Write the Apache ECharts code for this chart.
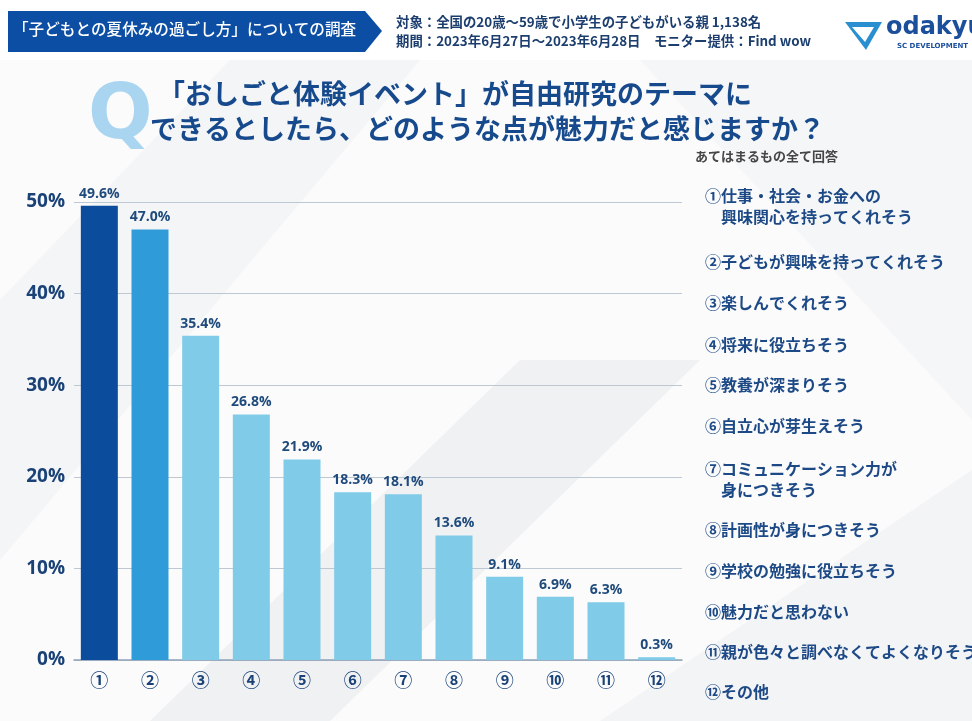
<!DOCTYPE html>
<html><head><meta charset="utf-8">
<script src="https://cdn.jsdelivr.net/npm/echarts@6/dist/echarts.min.js"></script>
<style>html,body{margin:0;padding:0;background:#fff}#c{width:972px;height:721px}</style>
</head><body><div id="c"></div>
<script>
const categories = ['①','②','③','④','⑤','⑥','⑦','⑧','⑨','⑩','⑪','⑫'];
const values = [49.6, 47.0, 35.4, 26.8, 21.9, 18.3, 18.1, 13.6, 9.1, 6.9, 6.3, 0.3];
const yTicks = [0, 10, 20, 30, 40, 50];
const legendItems = [
  '①仕事・社会・お金への\n　興味関心を持ってくれそう',
  '②子どもが興味を持ってくれそう',
  '③楽しんでくれそう',
  '④将来に役立ちそう',
  '⑤教養が深まりそう',
  '⑥自立心が芽生えそう',
  '⑦コミュニケーション力が\n　身につきそう',
  '⑧計画性が身につきそう',
  '⑨学校の勉強に役立ちそう',
  '⑩魅力だと思わない',
  '⑪親が色々と調べなくてよくなりそう',
  '⑫その他'
];
const legendY = [185, 251, 292, 334, 374, 415, 458, 519, 560, 601, 641, 681];
const titleLines = ['「おしごと体験イベント」が自由研究のテーマに', 'できるとしたら、どのような点が魅力だと感じますか？'];
const headerTitle = '「子どもとの夏休みの過ごし方」についての調査';
const headerInfo = ['対象：全国の20歳〜59歳で小学生の子どもがいる親 1,138名', '期間：2023年6月27日〜2023年6月28日　モニター提供：Find wow'];
const note = 'あてはまるもの全て回答';

const FONT = '"Noto Sans CJK JP", "Noto Sans", sans-serif';
const NAVY = '#1a4277';
const barColors = ['#0b4c9c', '#309bd9', '#7fcbe8'];

const chart = echarts.init(document.getElementById('c'), null, {renderer: 'canvas'});

const graphics = [
  // background shapes
  {type:'polygon', z:-10, shape:{points:[[0,60],[972,60],[972,721],[0,721]]}, style:{fill:'#fbfbfc'}},
  {type:'polygon', z:-9, shape:{points:[[0,300],[230,60],[420,60],[0,560]]}, style:{fill:'#f4f5f7'}},
  {type:'polygon', z:-9, shape:{points:[[150,721],[520,360],[700,360],[330,721]]}, style:{fill:'#f0f1f3'}},
  {type:'polygon', z:-9, shape:{points:[[640,60],[972,60],[972,420]]}, style:{fill:'#f5f6f8'}},
  {type:'polygon', z:-9, shape:{points:[[600,721],[972,470],[972,721]]}, style:{fill:'#f3f4f6'}},
  // header banner
  {type:'polygon', shape:{points:[[8,11],[365,11],[382,31],[365,52],[8,52]]}, style:{fill:'#0c4ea3'}},
  {type:'text', left:13, top:21, style:{text:headerTitle, fill:'#fff', font:'500 15.6px '+FONT}},
  {type:'text', left:396, top:15, style:{text:headerInfo[0], fill:'#1c3e6e', font:'bold 13.4px '+FONT}},
  {type:'text', left:396, top:34, style:{text:headerInfo[1], fill:'#1c3e6e', font:'bold 13.4px '+FONT}},
  // logo
  {type:'polygon', shape:{points:[[845,22],[882,22],[866,50]]}, style:{fill:'#2a8fd0'}},
  {type:'polygon', shape:{points:[[852,27],[874,27],[865,42]]}, style:{fill:'#fff'}},
  {type:'text', left:886, top:16, style:{text:'odakyu', fill:'#1b4f9c', font:'bold 24px "DejaVu Sans", sans-serif'}},
  {type:'text', left:897, top:43, style:{text:'SC DEVELOPMENT', fill:'#1b4f9c', font:'bold 7px "DejaVu Sans", sans-serif'}},
  // Q mark
  {type:'text', left:88, top:80, style:{text:'Q', fill:'#a9d5f0', font:'bold 76px "DejaVu Sans", sans-serif'}},
  // title
  {type:'text', left:158, top:80, style:{text:titleLines[0], fill:'#174a8c', font:'bold 27px '+FONT}},
  {type:'text', left:150, top:115, style:{text:titleLines[1], fill:'#174a8c', font:'bold 27px '+FONT}},
  {type:'text', right:134, top:150, style:{text:note, fill:'#454545', font:'bold 13px '+FONT, align:'right'}}
];
legendItems.forEach((t, i) => {
  graphics.push({type:'text', left:705, top:legendY[i], style:{text:t, fill:'#1d4a86', font:'bold 16px '+FONT, lineHeight:21}});
});

chart.setOption({
  backgroundColor:'#ffffff',
  animation:false,
  graphic:{elements:graphics},
  grid:{left:74, right:290, top:202, bottom:61},
  xAxis:{
    type:'category', data:categories,
    axisLine:{lineStyle:{color:'#90a3b8', width:1.5}},
    axisTick:{show:false},
    axisLabel:{color:NAVY, fontSize:18, fontWeight:'bold', margin:11, fontFamily:FONT}
  },
  yAxis:{
    type:'value', min:yTicks[0], max:yTicks[yTicks.length-1], interval:10,
    axisLine:{show:false}, axisTick:{show:false},
    axisLabel:{formatter:'{value}%', color:NAVY, fontSize:19, fontWeight:'bold', margin:9, fontFamily:'"Open Sans", "Noto Sans", sans-serif'},
    splitLine:{lineStyle:{color:'#bdc8d3', width:1}}
  },
  series:[{
    type:'bar', data:values.map((v,i)=>({value:v, itemStyle:{color: i===0?barColors[0]:(i===1?barColors[1]:barColors[2])}})),
    barWidth:37,
    label:{show:true, position:'top', distance:5, formatter:p=>p.value.toFixed(1)+'%', color:'#1f4b7c', fontSize:14, fontWeight:'bold', fontFamily:'"Open Sans", "Noto Sans", sans-serif'}
  }]
});
</script></body></html>
